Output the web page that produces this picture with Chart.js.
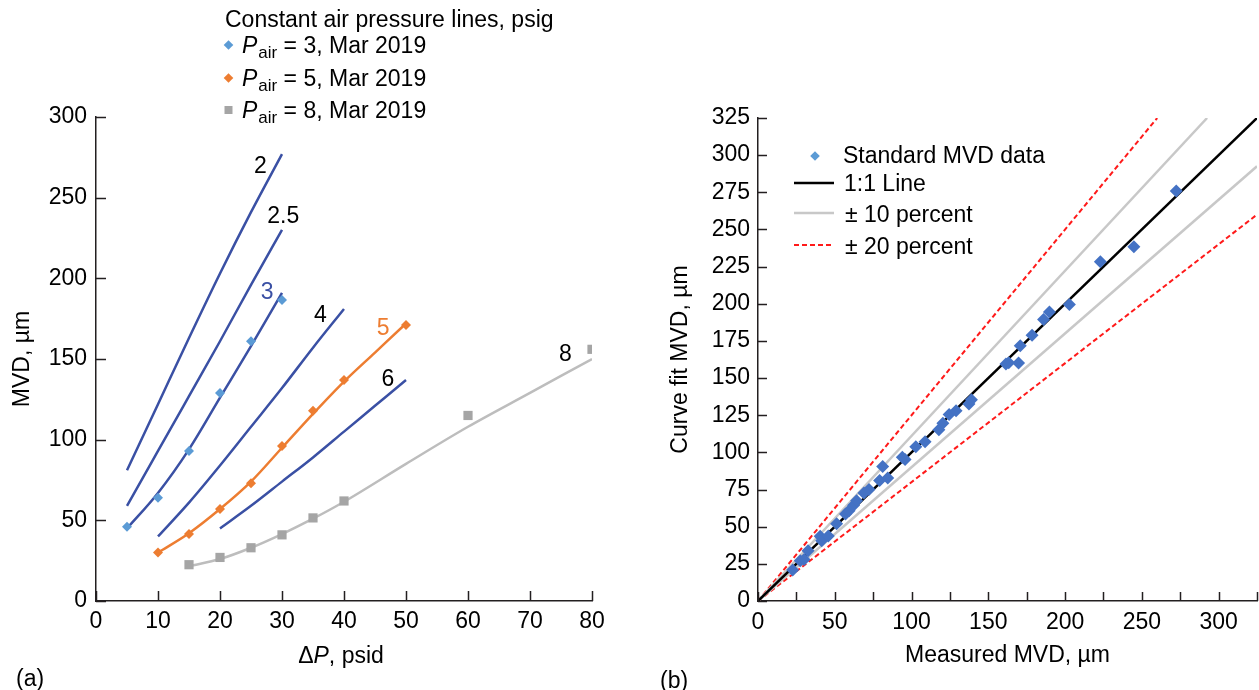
<!DOCTYPE html>
<html><head><meta charset="utf-8">
<script src="https://cdn.jsdelivr.net/npm/chart.js@4.4.1/dist/chart.umd.min.js"></script>
<style>
html,body{margin:0;padding:0;background:#fff;}
#wrap{position:relative;width:1259px;height:690px;overflow:hidden;background:#fff;}
canvas{position:absolute;top:0;}
#ca{left:0;} #cb{left:640px;}
</style></head><body>
<div id="wrap"><canvas id="ca" width="640" height="690"></canvas><canvas id="cb" width="627" height="690"></canvas></div>
<script>
// ---------- (a) constant air pressure lines ----------
const dpFit2 = [5, 10, 15, 20, 25, 30];
const mvdFit2 = [81, 122, 163, 203, 241, 277];
const dpFit25 = [5, 10, 15, 20, 25, 30];
const mvdFit25 = [59, 93, 127, 161, 196, 230];
const dpFit3 = [5, 10, 15, 20, 25, 30];
const mvdFit3 = [45, 67, 94, 126, 158, 191];
const dpFit4 = [10, 15, 20, 25, 30, 35, 40];
const mvdFit4 = [40, 61, 84, 108, 132, 157, 181];
const dpFit5 = [10, 15, 20, 25, 30, 35, 40, 45, 50];
const mvdFit5 = [30, 42, 57, 74, 95, 116, 136, 154, 172];
const dpFit6 = [20, 25, 30, 35, 40, 45, 50];
const mvdFit6 = [45, 59, 74, 89, 105, 121, 137];
const dpFit8 = [15, 20, 25, 30, 35, 40, 50, 60, 70, 80];
const mvdFit8 = [21.5, 26, 33, 41.5, 51, 61.5, 85, 108, 129, 150];

const dpData3 = [5, 10, 15, 20, 25, 30];
const mvdData3 = [46, 64, 93, 129, 161, 186.5];
const dpData5 = [10, 15, 20, 25, 30, 35, 40, 50];
const mvdData5 = [30, 41.5, 57, 73, 96, 118, 137, 171];
const dpData8 = [15, 20, 25, 30, 35, 40, 60, 80];
const mvdData8 = [22.5, 27, 33, 41, 51.5, 62, 115, 156];

const lineLabels = ['2', '2.5', '3', '4', '5', '6', '8'];
const lineLabelDp = [26.5, 30.2, 27.6, 36.2, 46.3, 47.1, 75.7];
const lineLabelMvd = [269, 238, 191, 177, 169, 137, 153];
const legendPairA = ['3', '5', '8'];

const xTicksA = [0, 10, 20, 30, 40, 50, 60, 70, 80];
const yTicksA = [0, 50, 100, 150, 200, 250, 300];

// ---------- (b) curve fit vs measured ----------
const measuredMVD = [22.6, 27.5, 30, 32.6, 40.5, 41.5, 45.8, 51.2, 57, 59.3, 62.3, 64.2, 69, 72.3, 79.2, 81.2, 84.5,
  94, 95.8, 102.8, 108.8, 117.8, 120.4, 124.5, 129, 137.4, 139, 161.5, 163.3, 169.7, 170.8, 178.5, 186, 189.8,
  202.8, 223, 244.8, 272.4];
const curveFitMVD = [20.9, 27, 28, 33.8, 43.5, 40.5, 43.8, 52, 58.5, 60.7, 64.5, 67.5, 72.6, 75, 81, 90.5, 82.7,
  96.8, 95.2, 103.8, 107.2, 115.3, 119.6, 125.5, 128, 132.6, 135.4, 159.4, 160.3, 160.1, 171.8, 178.8, 189.4, 194.5,
  199.5, 228.2, 238.3, 275.8];
const oneX = [0, 325], oneY = [0, 325];
const plus10X = [0, 292.5], plus10Y = [0, 325];
const minus10X = [0, 325], minus10Y = [0, 292.5];
const plus20X = [0, 260], plus20Y = [0, 325];
const minus20X = [0, 325], minus20Y = [0, 260];

const xTicksB = [0, 25, 50, 75, 100, 125, 150, 175, 200, 225, 250, 275, 300, 325];
const xLabelsB = ['0', '', '50', '', '100', '', '150', '', '200', '', '250', '', '300', ''];
const yTicksB = [0, 25, 50, 75, 100, 125, 150, 175, 200, 225, 250, 275, 300, 325];

// ---------- styling ----------
const FONT = "'Liberation Sans', Arial, Helvetica, sans-serif";
const FS = 23;
const AXIS = '#231f20';
const NAVY = '#3a50a4';
const LBLUE = '#5b9bd5';
const ORANGE = '#ed7d31';
const GREYM = '#a5a5a5';
const GREYL = '#bdbdbd';
const SBLUE = '#4472c4';
const RED = '#ff1a1a';

function pts(xs, ys) { return xs.map((x, i) => ({x: x, y: ys[i]})); }
function fitDS(xs, ys, color) {
  return {data: pts(xs, ys), showLine: true, borderColor: color, borderWidth: 2.5, pointRadius: 0,
    cubicInterpolationMode: 'monotone', fill: false};
}
function ptDS(xs, ys, color, style, r) {
  return {data: pts(xs, ys), showLine: false, pointStyle: style, pointRadius: r, pointHoverRadius: r,
    backgroundColor: color, borderColor: color, borderWidth: 0};
}
function refDS(xs, ys, color, w, dash) {
  return {data: pts(xs, ys), showLine: true, borderColor: color, borderWidth: w, pointRadius: 0,
    borderDash: dash || [], fill: false, tension: 0};
}
function setTicks(arr) { return function (s) { s.ticks = arr.map(v => ({value: v})); }; }

const inward = {
  id: 'inward',
  afterDraw(chart, a, o) {
    const ctx = chart.ctx, xs = chart.scales.x, ys = chart.scales.y;
    ctx.save();
    ctx.strokeStyle = AXIS; ctx.lineWidth = 1.5;
    ctx.beginPath();
    xs.ticks.forEach(t => { const p = Math.round(xs.getPixelForValue(t.value)) + 0.5;
      ctx.moveTo(p, xs.top); ctx.lineTo(p, xs.top - o.len); });
    ys.ticks.forEach(t => { const p = Math.round(ys.getPixelForValue(t.value)) + 0.5;
      ctx.moveTo(ys.right, p); ctx.lineTo(ys.right + o.len, p); });
    ctx.stroke();
    ctx.restore();
  }
};

function diamond(ctx, x, y, r, color) {
  ctx.fillStyle = color; ctx.beginPath();
  ctx.moveTo(x, y - r); ctx.lineTo(x + r, y); ctx.lineTo(x, y + r); ctx.lineTo(x - r, y); ctx.closePath(); ctx.fill();
}

const annotA = {
  id: 'annotA',
  afterDraw(chart) {
    const ctx = chart.ctx, xs = chart.scales.x, ys = chart.scales.y;
    ctx.save();
    ctx.font = FS + 'px ' + FONT; ctx.textAlign = 'center'; ctx.textBaseline = 'middle';
    lineLabels.forEach((t, i) => {
      ctx.fillStyle = t === '3' ? NAVY : (t === '5' ? ORANGE : '#000');
      ctx.fillText(t, xs.getPixelForValue(lineLabelDp[i]), ys.getPixelForValue(lineLabelMvd[i]));
    });
    ctx.textAlign = 'left'; ctx.textBaseline = 'alphabetic'; ctx.fillStyle = '#000';
    ctx.font = FS + 'px ' + FONT;
    ctx.fillText('Constant air pressure lines, psig', 225, 27);
    const cys = [45, 78, 110];
    const cols = [LBLUE, ORANGE, GREYM];
    legendPairA.forEach((v, i) => {
      const cy = cys[i];
      if (i < 2) diamond(ctx, 228.5, cy, 4.8, cols[i]);
      else { ctx.fillStyle = cols[i]; ctx.fillRect(224.5, cy - 4, 8, 8); }
      ctx.fillStyle = '#000';
      let x = 242; const b = cy + 8;
      ctx.font = 'italic ' + FS + 'px ' + FONT; ctx.fillText('P', x, b); x += ctx.measureText('P').width + 1;
      ctx.font = '17px ' + FONT; ctx.fillText('air', x, b + 5); x += ctx.measureText('air').width;
      ctx.font = FS + 'px ' + FONT; ctx.fillText(' = ' + v + ', Mar 2019', x, b);
    });
    const parts = [['\u0394', ''], ['P', 'italic '], [', psid', '']];
    let w = 0;
    parts.forEach(p => { ctx.font = p[1] + FS + 'px ' + FONT; w += ctx.measureText(p[0]).width; });
    let x = (xs.left + xs.right) / 2 - w / 2 - 3;
    parts.forEach(p => { ctx.font = p[1] + FS + 'px ' + FONT; ctx.fillText(p[0], x, 663); x += ctx.measureText(p[0]).width; });
    ctx.font = FS + 'px ' + FONT;
    ctx.fillText('(a)', 16, 686);
    ctx.restore();
  }
};

const annotB = {
  id: 'annotB',
  afterDraw(chart) {
    const ctx = chart.ctx;
    ctx.save();
    ctx.fillStyle = '#000'; ctx.font = FS + 'px ' + FONT; ctx.textAlign = 'left'; ctx.textBaseline = 'alphabetic';
    const ox = -640;
    diamond(ctx, 815 + ox, 156, 4.8, LBLUE);
    ctx.fillStyle = '#000';
    ctx.fillText('Standard MVD data', 843 + ox, 163);
    ctx.lineWidth = 2.5; ctx.strokeStyle = '#000';
    ctx.beginPath(); ctx.moveTo(794 + ox, 183); ctx.lineTo(834 + ox, 183); ctx.stroke();
    ctx.fillText('1:1 Line', 844 + ox, 191);
    ctx.strokeStyle = '#c8c8c8';
    ctx.beginPath(); ctx.moveTo(794 + ox, 213); ctx.lineTo(834 + ox, 213); ctx.stroke();
    ctx.fillText('\u00B1 10 percent', 845 + ox, 222);
    ctx.strokeStyle = RED; ctx.lineWidth = 2; ctx.setLineDash([5, 3]);
    ctx.beginPath(); ctx.moveTo(794 + ox, 245); ctx.lineTo(834 + ox, 245); ctx.stroke();
    ctx.setLineDash([]);
    ctx.fillText('\u00B1 20 percent', 845 + ox, 254);
    ctx.fillText('(b)', 660 + ox, 688);
    ctx.restore();
  }
};

const tickFont = {family: FONT, size: FS};

new Chart(document.getElementById('ca'), {
  type: 'scatter',
  data: {datasets: [
    ptDS(dpData3, mvdData3, LBLUE, 'rectRot', 5),
    ptDS(dpData5, mvdData5, ORANGE, 'rectRot', 5),
    ptDS(dpData8, mvdData8, GREYM, 'rect', 6.5),
    fitDS(dpFit2, mvdFit2, NAVY),
    fitDS(dpFit25, mvdFit25, NAVY),
    fitDS(dpFit3, mvdFit3, NAVY),
    fitDS(dpFit4, mvdFit4, NAVY),
    fitDS(dpFit5, mvdFit5, ORANGE),
    fitDS(dpFit6, mvdFit6, NAVY),
    fitDS(dpFit8, mvdFit8, GREYL)
  ]},
  options: {
    responsive: false, animation: false, devicePixelRatio: 1,
    layout: {padding: {top: 117, right: 48, bottom: 0, left: 0}},
    plugins: {legend: {display: false}, tooltip: {enabled: false}, inward: {len: 10}},
    scales: {
      x: {type: 'linear', min: 0, max: 80, afterBuildTicks: setTicks(xTicksA),
        afterFit(s) { s.height = 89; },
        grid: {display: false, drawTicks: false},
        border: {display: true, color: AXIS, width: 1.5},
        ticks: {font: tickFont, color: '#000', padding: 7, maxRotation: 0, autoSkip: false},
        title: {display: false}},
      y: {type: 'linear', min: 0, max: 300, afterBuildTicks: setTicks(yTicksA),
        afterFit(s) { s.width = 96; },
        grid: {display: false, drawTicks: false},
        border: {display: true, color: AXIS, width: 1.5},
        ticks: {font: tickFont, color: '#000', padding: 9, autoSkip: false},
        title: {display: true, text: 'MVD, \u00B5m', font: {family: FONT, size: FS}, color: '#000', padding: {top: 9, bottom: 0}}}
    }
  },
  plugins: [inward, annotA]
});

new Chart(document.getElementById('cb'), {
  type: 'scatter',
  data: {datasets: [
    ptDS(measuredMVD, curveFitMVD, SBLUE, 'rectRot', 6.5),
    refDS(oneX, oneY, '#000', 2.5),
    refDS(plus10X, plus10Y, '#c8c8c8', 2.5),
    refDS(minus10X, minus10Y, '#c8c8c8', 2.5),
    refDS(plus20X, plus20Y, RED, 2, [5, 3]),
    refDS(minus20X, minus20Y, RED, 2, [5, 3])
  ]},
  options: {
    responsive: false, animation: false, devicePixelRatio: 1,
    layout: {padding: {top: 118, right: 10, bottom: 0, left: 0}},
    plugins: {legend: {display: false}, tooltip: {enabled: false}, inward: {len: 9}},
    scales: {
      x: {type: 'linear', min: 0, max: 325, afterBuildTicks: setTicks(xTicksB),
        afterFit(s) { s.height = 89; },
        grid: {display: false, drawTicks: false},
        border: {display: true, color: AXIS, width: 1.5},
        ticks: {font: tickFont, color: '#000', padding: 8, maxRotation: 0, autoSkip: false,
          callback: (v, i) => xLabelsB[i]},
        title: {display: true, text: 'Measured MVD, \u00B5m', font: {family: FONT, size: FS}, color: '#000', padding: {top: 0, bottom: 21}}},
      y: {type: 'linear', min: 0, max: 325, afterBuildTicks: setTicks(yTicksB),
        afterFit(s) { s.width = 118; },
        grid: {display: false, drawTicks: false},
        border: {display: true, color: AXIS, width: 1.5},
        ticks: {font: tickFont, color: '#000', padding: 8, autoSkip: false},
        title: {display: true, text: 'Curve fit MVD, \u00B5m', font: {family: FONT, size: FS}, color: '#000', padding: {top: 27, bottom: 0}}}
    }
  },
  plugins: [inward, annotB]
});
</script>
</body></html>
